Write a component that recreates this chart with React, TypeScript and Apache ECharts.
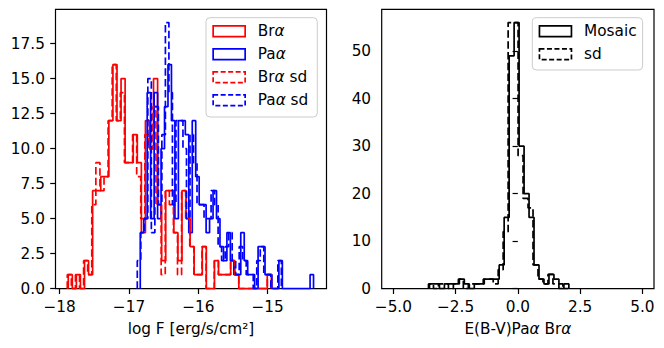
import React, { useEffect, useRef } from "react";
import * as echarts from "echarts";

// ---------- Left panel: log F histograms (first bin edge, bin width, counts) ----------
const braStart = -17.876;
const braWidth = 0.0586;
const braCounts = [1, 0, 1, 0, 2, 1, 7, 7, 8, 8, 12, 16, 12, 15, 9, 9, 11, 9, 4, 12, 10, 15, 6, 2, 7, 7, 4, 2, 7, 5, 3, 1, 1, 3, 0, 0, 2, 1, 1, 1, 2, 1, 0, 0, 0, 0, 0, 0, 0, 1];

const paaStart = -16.837;
const paaWidth = 0.05;
const paaCounts = [4, 5, 14, 5, 14, 5, 10, 13, 16, 12, 5, 12, 12, 11, 4, 12, 8, 6, 6, 4, 5, 7, 5, 3, 2, 4, 2, 1, 1, 4, 2, 1, 1, 0, 3, 3, 1, 1, 0, 0, 2, 0, 0, 0, 0, 0, 0, 0, 0, 1];

const braSdStart = -17.89;
const braSdWidth = 0.0589;
const braSdCounts = [1, 0, 1, 0, 2, 1, 6, 9, 7, 8, 12, 16, 12, 14, 9, 9, 11, 8, 5, 11, 10, 13, 6, 1, 7, 6, 4, 1, 7, 5, 3, 1, 1, 3, 0, 0, 2, 1, 1, 1, 2, 1, 0, 0, 0, 0, 0, 0, 0, 1];

const paaSdStart = -16.88;
const paaSdWidth = 0.0507;
const paaSdCounts = [2, 4, 5, 15, 4, 13, 6, 11, 19, 14, 6, 12, 12, 10, 5, 11, 9, 6, 6, 5, 5, 7, 6, 3, 2, 3, 4, 2, 1, 3, 2, 1, 1, 0, 2, 3, 1, 1, 0, 0, 2];

// ---------- Right panel: E(B-V) histograms ----------
const mosaicStart = -3.55;
const mosaicWidth = 0.2;
const mosaicCounts = [1, 1, 0, 1, 1, 1, 2, 1, 0, 1, 1, 2, 2, 2, 5, 15, 49, 56, 30, 20, 15, 5, 2, 1, 3, 2, 0, 1];

const sdStart = -3.59;
const sdWidth = 0.2;
const sdCounts = [1, 0, 1, 1, 0, 1, 2, 0, 1, 1, 1, 2, 2, 1, 4, 12, 56, 56, 28, 19, 17, 5, 2, 1, 3, 1, 1, 0];

// ---------- Axis ticks ----------
const leftXTicks = [-18, -17, -16, -15];
const leftYTicks = [0, 2.5, 5, 7.5, 10, 12.5, 15, 17.5];
const rightXTicks = [-5, -2.5, 0, 2.5, 5];
const rightYTicks = [0, 10, 20, 30, 40, 50];

const leftLegend = ["Brα", "Paα", "Brα sd", "Paα sd"];
const rightLegend = ["Mosaic", "sd"];

const FONT = "DejaVu Sans";
const FS = 15.3;
const RED = "#ff0000";
const BLUE = "#0000ff";
const BLACK = "#000000";
const DASH = [7.5, 3.3];

function outline(start: number, width: number, counts: number[]) {
  const pts: number[][] = [[start, 0]];
  counts.forEach((c, i) => {
    pts.push([start + i * width, c]);
    pts.push([start + (i + 1) * width, c]);
  });
  pts.push([start + counts.length * width, 0]);
  return pts;
}

const minus = (s: string) => s.replace("-", "\u2212");

function stepSeries(name: string, idx: number, pts: number[][], color: string, dashed: boolean) {
  return {
    type: "line",
    name,
    xAxisIndex: idx,
    yAxisIndex: idx,
    data: pts,
    symbol: "none",
    showSymbol: false,
    silent: true,
    lineStyle: { color, width: 1.7, type: dashed ? DASH : "solid" },
    itemStyle: { color },
  };
}

function legendItem(name: string, color: string, dashed: boolean) {
  return {
    name,
    icon: "rect",
    itemStyle: {
      color: "rgba(255,255,255,0)",
      borderColor: color,
      borderWidth: 1.7,
      borderType: dashed ? [5, 2.5] : "solid",
    },
  };
}

const richText = {
  g: { fontFamily: FONT, fontSize: FS, fontStyle: "italic", color: BLACK },
};

const legendBase = {
  orient: "vertical",
  itemWidth: 32,
  itemHeight: 10.7,
  itemGap: 5,
  selectedMode: false,
  backgroundColor: "rgba(255,255,255,0.8)",
  borderColor: "#cccccc",
  borderWidth: 1,
  borderRadius: 4,
  formatter: (n: string) => n.replace(/α/g, "{g|α}"),
  textStyle: {
    fontFamily: FONT,
    fontSize: FS,
    color: BLACK,
    lineHeight: 18,
    padding: [0, 0, 0, 7.6],
    rich: richText,
  },
};

const axisCommon = {
  axisLine: { show: false },
  splitLine: { show: false },
  axisTick: { show: true, inside: false, length: 5.3, lineStyle: { color: BLACK, width: 1.2 } },
};

const labelStyle = { fontFamily: FONT, fontSize: FS, color: BLACK, margin: 10.6 };

const option = {
  animation: false,
  backgroundColor: "#ffffff",
  grid: [
    { left: 55.5, top: 9.3, width: 271, height: 279.4, show: true, borderColor: BLACK, borderWidth: 1.2, backgroundColor: "transparent" },
    { left: 381.7, top: 9.3, width: 272.3, height: 279.4, show: true, borderColor: BLACK, borderWidth: 1.2, backgroundColor: "transparent" },
  ],
  xAxis: [
    {
      type: "value",
      gridIndex: 0,
      min: -18.06,
      max: -14.15,
      ...axisCommon,
      axisTick: { ...axisCommon.axisTick, customValues: leftXTicks },
      axisLabel: { ...labelStyle, customValues: leftXTicks, formatter: (v: number) => minus(String(v)) },
      name: "log F [erg/s/cm²]",
      nameLocation: "middle",
      nameGap: 33,
      nameTextStyle: { fontFamily: FONT, fontSize: FS, color: BLACK },
    },
    {
      type: "value",
      gridIndex: 1,
      min: -5.47,
      max: 5.47,
      ...axisCommon,
      axisTick: { ...axisCommon.axisTick, customValues: rightXTicks },
      axisLabel: { ...labelStyle, customValues: rightXTicks, formatter: (v: number) => minus(v.toFixed(1)) },
      name: "E(B-V)Pa{g|α} Br{g|α}",
      nameLocation: "middle",
      nameGap: 33,
      nameTextStyle: { fontFamily: FONT, fontSize: FS, color: BLACK, rich: richText },
    },
  ],
  yAxis: [
    {
      type: "value",
      gridIndex: 0,
      min: 0,
      max: 19.95,
      ...axisCommon,
      axisTick: { ...axisCommon.axisTick, customValues: leftYTicks },
      axisLabel: { ...labelStyle, customValues: leftYTicks, formatter: (v: number) => v.toFixed(1) },
    },
    {
      type: "value",
      gridIndex: 1,
      min: 0,
      max: 58.8,
      ...axisCommon,
      axisTick: { ...axisCommon.axisTick, customValues: rightYTicks },
      axisLabel: { ...labelStyle, customValues: rightYTicks, formatter: (v: number) => String(v) },
    },
  ],
  legend: [
    {
      ...legendBase,
      left: 206,
      top: 17.7,
      padding: [4.6, 9, 7.7, 6.3],
      data: [
        legendItem(leftLegend[0], RED, false),
        legendItem(leftLegend[1], BLUE, false),
        legendItem(leftLegend[2], RED, true),
        legendItem(leftLegend[3], BLUE, true),
      ],
    },
    {
      ...legendBase,
      left: 532.3,
      top: 17.7,
      padding: [4.6, 6, 6.7, 6.3],
      data: [legendItem(rightLegend[0], BLACK, false), legendItem(rightLegend[1], BLACK, true)],
    },
  ],
  series: [
    stepSeries(leftLegend[0], 0, outline(braStart, braWidth, braCounts), RED, false),
    stepSeries(leftLegend[1], 0, outline(paaStart, paaWidth, paaCounts), BLUE, false),
    stepSeries(leftLegend[2], 0, outline(braSdStart, braSdWidth, braSdCounts), RED, true),
    stepSeries(leftLegend[3], 0, outline(paaSdStart, paaSdWidth, paaSdCounts), BLUE, true),
    stepSeries(rightLegend[0], 1, outline(mosaicStart, mosaicWidth, mosaicCounts), BLACK, false),
    stepSeries(rightLegend[1], 1, outline(sdStart, sdWidth, sdCounts), BLACK, true),
  ],
};

export default function App() {
  const ref = useRef<HTMLDivElement>(null);
  useEffect(() => {
    if (!ref.current) return;
    const chart = echarts.init(ref.current, null, { renderer: "svg" });
    chart.setOption(option as any);
    return () => chart.dispose();
  }, []);
  return (
    <div
      ref={ref}
      style={{ position: "fixed", left: 0, top: 0, width: 664, height: 348, background: "#ffffff" }}
    />
  );
}
